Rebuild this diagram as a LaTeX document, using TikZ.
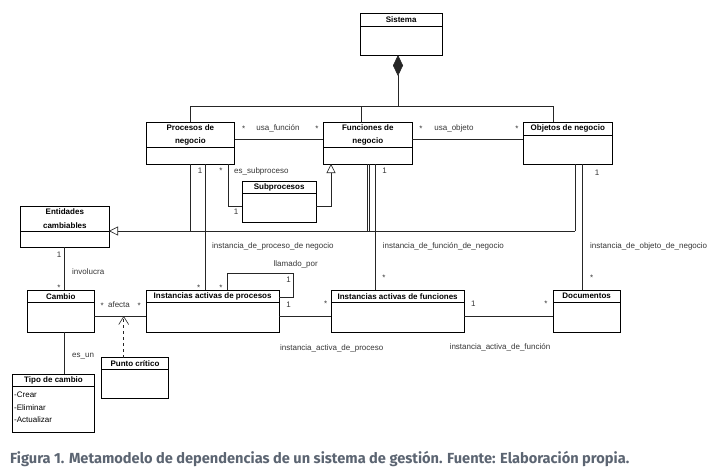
\documentclass[tikz,border=0pt]{standalone}
\usepackage{fontspec}
\usepackage{graphicx}
\setmainfont{Liberation Sans}
\newfontfamily\capfont{Fira Sans}
\usetikzlibrary{arrows.meta,calc}
\definecolor{capcol}{RGB}{92,101,114}
\definecolor{lblcol}{RGB}{55,55,55}
\tikzset{
 cls/.style={draw=black, line width=0.8pt, fill=white, inner sep=0pt, outer sep=0pt},
 ttl/.style={font=\fontsize{8}{13.3}\selectfont\bfseries, align=center, inner sep=0pt},
 lbl/.style={font=\fontsize{8}{9}\selectfont, text=lblcol, inner sep=0pt},
 conn/.style={draw=black!85, line width=0.6pt},
 gen/.style={conn, -{Triangle[open, length=9pt, width=9pt, fill=white]}},
 comp/.style={conn, {Diamond[length=21pt, width=10pt]}-},
 dep/.style={conn, dash pattern=on 3pt off 3pt, -{Straight Barb[length=8pt, width=10pt]}},
}
\newcommand\umlcls[7]{%
 \node[cls, minimum width=#4pt, minimum height=#5pt, anchor=north west] (#1) at (#2,#3) {};
 \draw[line width=0.8pt] ([yshift=-#6pt]#1.north west) -- ([yshift=-#6pt]#1.north east);
 \node[ttl] at ([yshift={-#6pt/2}]#1.north) {#7};
}
\begin{document}
\begin{tikzpicture}[x=1pt,y=-1pt]
\fill[white] (0,0) rectangle (725,475);
\useasboundingbox (0,0) rectangle (725,475);

% classes
\umlcls{sis}{360}{13}{82.3}{42}{13}{Sistema}
\umlcls{proc}{146}{122.3}{88.7}{42}{25}{Procesos de\\negocio}
\umlcls{fun}{323.3}{122.5}{89}{41.5}{25}{Funciones de\\negocio}
\umlcls{obj}{523.3}{122.3}{89}{42}{12.7}{Objetos de negocio}
\umlcls{sub}{242.3}{181.3}{73.7}{41.4}{12}{Subprocesos}
\umlcls{ent}{20.7}{206}{88.3}{41.3}{25}{Entidades\\cambiables}
\umlcls{cam}{27.3}{290}{67}{42}{12.3}{Cambio}
\umlcls{iap}{146}{290}{133.3}{42}{12.3}{Instancias activas de procesos}
\umlcls{iaf}{331}{290}{133.3}{42}{12.3}{Instancias activas de funciones}
\umlcls{doc}{553.3}{290}{66.7}{42}{12.3}{Documentos}
\umlcls{pc}{101.7}{357.7}{66.6}{41}{11.6}{Punto cr\'itico}
\umlcls{tipo}{12.7}{374.3}{81.6}{58}{11.7}{Tipo de cambio}
\node[lbl, text=black, anchor=west] (t1) at (14,394.3) {-Crear};
\node[lbl, text=black, anchor=west] (t2) at (14,407.3) {-Eliminar};
\node[lbl, text=black, anchor=west] (t3) at (14,420) {-Actualizar};

% helper coordinates
\coordinate (ct) at (398,106);
\coordinate (cp) at (190.7,106);
\coordinate (cf) at (361,106);
\coordinate (co) at (553,106);
\coordinate (uf) at (0,139);
\coordinate (es1) at (228,206.7);
\coordinate (sg) at (331,206.7);
\coordinate (gl) at (575,231);
\coordinate (gp) at (190.7,231);
\coordinate (gf1) at (367,231);
\coordinate (gf2) at (369.5,231);
\coordinate (ip) at (205,0);
\coordinate (if) at (375.7,0);
\coordinate (id) at (582.3,0);
\coordinate (iv) at (64.3,0);
\coordinate (r) at (0,316);
\coordinate (dp) at (123.7,316);
\coordinate (l1) at (227.7,273.3);
\coordinate (l2) at (293.3,297.7);

% composition
\draw[comp] (sis.south -| ct) -- (ct);
\draw[conn] (proc.north -| cp) -- (cp) -- (co) -- (obj.north -| co);
\draw[conn] (cf) -- (fun.north -| cf);

% associations top
\draw[conn] (proc.east |- uf) -- (fun.west |- uf);
\draw[conn] (fun.east |- uf) -- (obj.west |- uf);
\draw[conn] (proc.south -| es1) -- (es1) -- (sub.west |- es1);
\draw[gen] (sub.east |- sg) -- (sg) -- (fun.south -| sg);

% generalization to Entidades cambiables
\draw[gen] (gl) -- (ent.east |- gl);
\draw[conn] (proc.south -| gp) -- (gp);
\draw[conn] (fun.south -| gf1) -- (gf1);
\draw[conn] (fun.south -| gf2) -- (gf2);
\draw[conn] (obj.south -| gl) -- (gl);

% instance links
\draw[conn] (proc.south -| ip) -- (iap.north -| ip);
\draw[conn] (fun.south -| if) -- (iaf.north -| if);
\draw[conn] (obj.south -| id) -- (doc.north -| id);

% left side
\draw[conn] (ent.south -| iv) -- (cam.north -| iv);
\draw[conn] (cam.south -| iv) -- (tipo.north -| iv);

% bottom row
\draw[conn] (cam.east |- r) -- (iap.west |- r);
\draw[conn] (iap.east |- r) -- (iaf.west |- r);
\draw[conn] (iaf.east |- r) -- (doc.west |- r);
\draw[dep] (pc.north -| dp) -- (dp);
\draw[conn] (iap.north -| l1) -- (l1) -| (l2) -- (iap.east |- l2);

% labels
\node[lbl] (a1) at (243.7,128.5) {*};
\node[lbl] (a2) at (278,128) {usa\_funci\'on};
\node[lbl] (a3) at (317,128.5) {*};
\node[lbl] (a4) at (421,128.5) {*};
\node[lbl] (a5) at (454,128) {usa\_objeto};
\node[lbl] (a6) at (517,128.5) {*};
\node[lbl] (a7) at (200,171) {1};
\node[lbl] (a8) at (221,170.5) {*};
\node[lbl, anchor=west] (a9) at (234,171) {es\_subproceso};
\node[lbl] (a10) at (236,212) {1};
\node[lbl] (a11) at (384.7,171) {1};
\node[lbl] (a12) at (597,172.7) {1};
\node[lbl, anchor=west] (a13) at (212,246) {instancia\_de\_proceso\_de negocio};
\node[lbl, anchor=west] (a14) at (382.7,246) {instancia\_de\_funci\'on\_de\_negocio};
\node[lbl, anchor=west] (a15) at (590,246) {instancia\_de\_objeto\_de\_negocio};
\node[lbl] (a16) at (295.7,264) {llamado\_por};
\node[lbl] (a17) at (198.7,287.5) {*};
\node[lbl] (a18) at (221,287.5) {*};
\node[lbl] (a19) at (288.7,280) {1};
\node[lbl] (a20) at (288.7,305) {1};
\node[lbl] (a21) at (384,278) {*};
\node[lbl] (a22) at (591.7,278) {*};
\node[lbl] (a23) at (59,255) {1};
\node[lbl, anchor=west] (a24) at (72,271.7) {involucra};
\node[lbl] (a25) at (59,287.5) {*};
\node[lbl] (a26) at (102.3,305.5) {*};
\node[lbl] (a27) at (119,304.7) {afecta};
\node[lbl] (a28) at (139.3,305.5) {*};
\node[lbl] (a29) at (325.7,303.8) {*};
\node[lbl] (a30) at (331.7,348.3) {instancia\_activa\_de\_proceso};
\node[lbl] (a31) at (473.3,304) {1};
\node[lbl] (a32) at (546,303.8) {*};
\node[lbl] (a33) at (500,347.3) {instancia\_activa\_de\_funci\'on};
\node[lbl, anchor=west] (a34) at (72,356) {es\_un};

% caption
\node[anchor=west, inner sep=0pt, text=capcol] (cap) at (10,459.5) {\resizebox{619pt}{!}{\capfont\bfseries Figura 1. Metamodelo de dependencias de un sistema de gesti\'on. Fuente: Elaboraci\'on propia.}};
\end{tikzpicture}
\end{document}
